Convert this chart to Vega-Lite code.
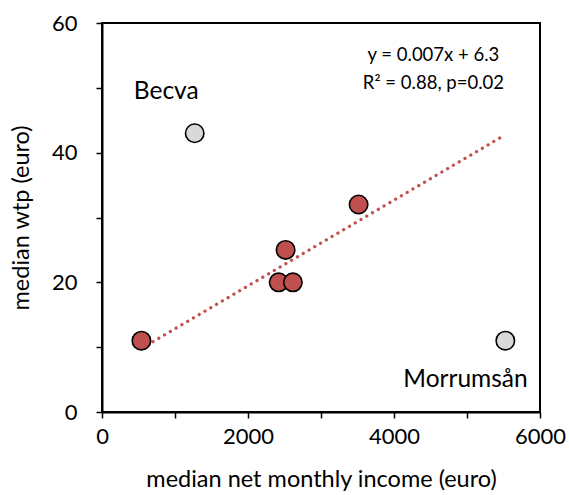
{
  "$schema": "https://vega.github.io/schema/vega-lite/v6.json",
  "width": 438,
  "height": 389,
  "autosize": {"type": "none"},
  "padding": {"left": 102, "top": 23, "right": 29, "bottom": 83},
  "background": "white",
  "config": {
    "font": "Lato",
    "view": {"stroke": "black", "strokeWidth": 2},
    "axis": {
      "domainColor": "black", "domainWidth": 2, "tickColor": "black", "tickWidth": 1.5,
      "tickSize": 6, "grid": false, "labelFont": "Lato", "labelFontSize": 22, "labelColor": "black",
      "labelFlush": false, "labelOverlap": false,
      "titleFont": "Lato", "titleFontSize": 23.5, "titleFontWeight": "normal", "titleColor": "black"
    }
  },
  "datasets": {
    "pts": [
      {"income": 540, "wtp": 11, "group": "fit"},
      {"income": 2420, "wtp": 20, "group": "fit"},
      {"income": 2615, "wtp": 20, "group": "fit"},
      {"income": 2515, "wtp": 25, "group": "fit"},
      {"income": 3515, "wtp": 32, "group": "fit"},
      {"income": 1270, "wtp": 43, "group": "outlier"},
      {"income": 5525, "wtp": 11, "group": "outlier"}
    ],
    "trend": [
      {"income": 540, "wtp": 9.8},
      {"income": 5500, "wtp": 42.6}
    ],
    "labels": [
      {"income": 880, "wtp": 49.3, "text": "Becva", "kind": "big"},
      {"income": 4980, "wtp": 4.9, "text": "Morrumsån", "kind": "big"},
      {"income": 4540, "wtp": 55.0, "text": "y = 0.007x + 6.3", "kind": "small"},
      {"income": 4540, "wtp": 50.7, "text": "R² = 0.88, p=0.02", "kind": "small"}
    ]
  },
  "layer": [
    {
      "data": {"name": "trend"},
      "mark": {"type": "line", "color": "#C0504D", "strokeWidth": 3.2, "strokeDash": [0.1, 6.6], "strokeCap": "round"},
      "encoding": {
        "x": {"field": "income", "type": "quantitative", "scale": {"domain": [0, 6000], "nice": false},
          "axis": {"values": [0,1000,2000,3000,4000,5000,6000], "labelExpr": "datum.value % 2000 == 0 ? datum.label : ''",
            "format": "d", "title": "median net monthly income (euro)", "labelPadding": 8, "titlePadding": 20}},
        "y": {"field": "wtp", "type": "quantitative", "scale": {"domain": [0, 60], "nice": false},
          "axis": {"values": [0,10,20,30,40,50,60], "labelExpr": "datum.value % 20 == 0 ? datum.label : ''",
            "title": "median wtp (euro)", "labelPadding": 19, "titlePadding": 18}}
      }
    },
    {
      "data": {"name": "pts"},
      "mark": {"type": "circle", "size": 340, "stroke": "black", "strokeWidth": 1.6, "opacity": 1},
      "encoding": {
        "x": {"field": "income", "type": "quantitative"},
        "y": {"field": "wtp", "type": "quantitative"},
        "fill": {"field": "group", "type": "nominal", "scale": {"domain": ["fit", "outlier"], "range": ["#C0504D", "#D9D9D9"]}, "legend": null}
      }
    },
    {
      "data": {"name": "labels"},
      "mark": {"type": "text", "font": "Lato", "color": "black", "align": "center", "baseline": "middle"},
      "encoding": {
        "x": {"field": "income", "type": "quantitative"},
        "y": {"field": "wtp", "type": "quantitative"},
        "text": {"field": "text"},
        "size": {"field": "kind", "type": "nominal", "scale": {"domain": ["big", "small"], "range": [24.5, 18.5]}, "legend": null}
      }
    }
  ]
}
